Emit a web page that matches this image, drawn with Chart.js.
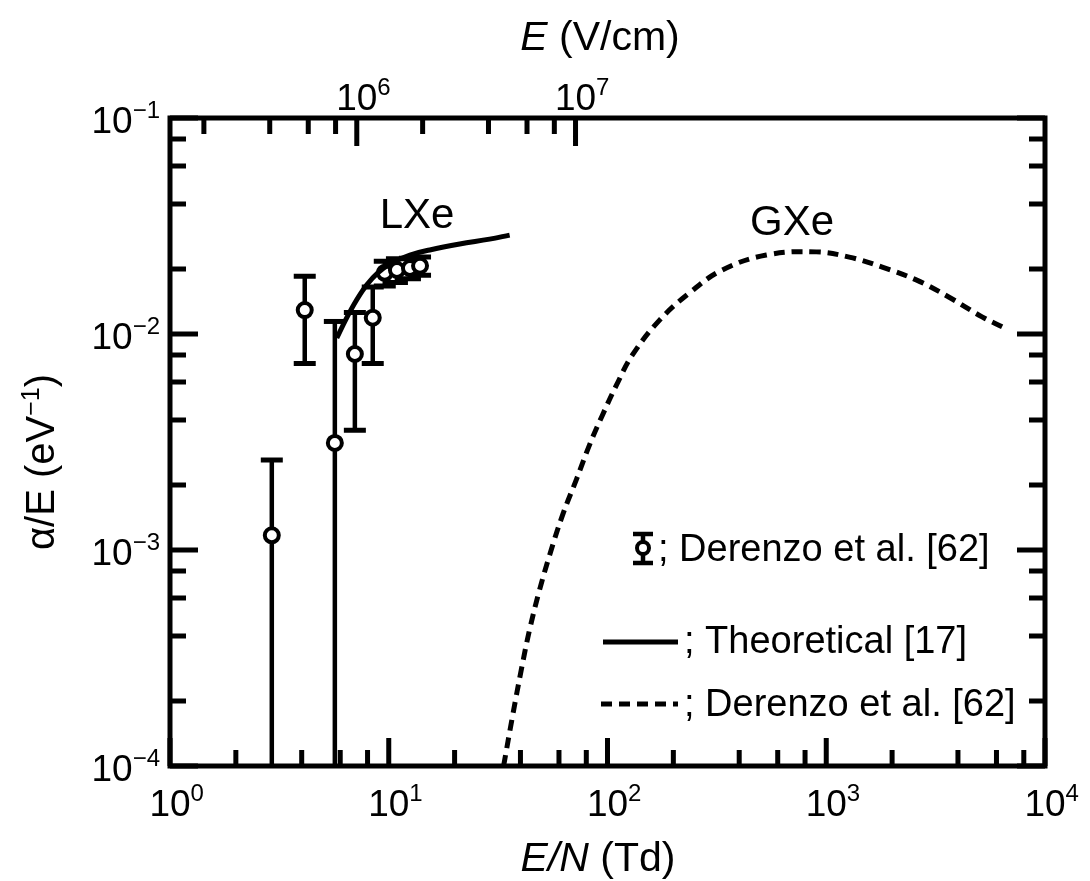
<!DOCTYPE html>
<html>
<head>
<meta charset="utf-8">
<script src="https://cdn.jsdelivr.net/npm/chart.js@4.4.0/dist/chart.umd.min.js"></script>
<style>
html,body{margin:0;padding:0;background:#fff;}
#wrap{width:1090px;height:881px;position:relative;}
</style>
</head>
<body>
<div id="wrap"><canvas id="c" width="1090" height="881"></canvas></div>
<script>
// ---- data ----
const derenzoX   = [2.92, 4.13, 5.67, 7.0, 8.45, 9.59, 10.9, 12.5, 13.9];
const derenzoY   = [1.17e-3, 1.29e-2, 3.13e-3, 8.08e-3, 1.19e-2, 1.92e-2, 1.98e-2, 2.02e-2, 2.07e-2];
const derenzoErr = [1.44e-3, 5.6e-3, 8.3e-3, 4.5e-3, 4.6e-3, 2.5e-3, 2.5e-3, 2.2e-3, 2.0e-3];
const theoryX = [5.79, 6.43, 7.14, 7.94, 8.91, 10.3, 12.5, 15.4, 21.1, 28.9, 35.7];
const theoryY = [9.58e-3, 1.19e-2, 1.44e-2, 1.69e-2, 1.92e-2, 2.13e-2, 2.32e-2, 2.45e-2, 2.61e-2, 2.75e-2, 2.87e-2];
const gxeX = [33.5, 36.8, 40.5, 44.0, 48.9, 54.4, 62.3, 72.2, 82.7, 94.9, 110, 130, 173, 237, 335, 532, 900, 1274, 1803, 2578, 3646, 5155, 6368];
const gxeY = [1.0e-4, 1.70e-4, 2.84e-4, 4.26e-4, 6.53e-4, 9.48e-4, 1.45e-3, 2.13e-3, 3.06e-3, 4.22e-3, 5.81e-3, 8.0e-3, 1.16e-2, 1.55e-2, 1.98e-2, 2.32e-2, 2.40e-2, 2.27e-2, 2.04e-2, 1.78e-2, 1.48e-2, 1.20e-2, 1.08e-2];

// ---- ticks ----
const xDecades = [1, 10, 100, 1000, 10000];
const xExpLabels = ['0', '1', '2', '3', '4'];
const yDecades = [1e-4, 1e-3, 1e-2, 1e-1];
const yExpLabels = ['\u22124', '\u22123', '\u22122', '\u22121'];
const topDecades = [1e6, 1e7];
const topExpLabels = ['6', '7'];
const minorMult = [2, 4, 6, 8];
const topMinor = [2e5, 4e5, 6e5, 8e5, 2e6, 4e6, 6e6, 8e6];
const vcmPerTd = 1.4e5; // E = (E/N) * N for liquid xenon

const FONT = "'Liberation Sans', Arial, Helvetica, sans-serif";
const NARROW = "'Liberation Sans Narrow', 'Arial Narrow', 'Liberation Sans', Arial, sans-serif";

function setFont(ctx, size, italic, fam) {
  ctx.font = (italic ? 'italic ' : '') + size + 'px ' + (fam || FONT);
}
function drawRich(ctx, parts, x, y, align) {
  let w = 0;
  parts.forEach(p => { setFont(ctx, p.size, p.italic, p.fam); p.w = ctx.measureText(p.t).width; w += p.w; });
  let cx = align === 'center' ? x - w / 2 : (align === 'right' ? x - w : x);
  ctx.textAlign = 'left';
  ctx.textBaseline = 'alphabetic';
  parts.forEach(p => {
    setFont(ctx, p.size, p.italic, p.fam);
    ctx.fillText(p.t, cx, y - (p.rise || 0));
    cx += p.w;
  });
  return w;
}
function powLabel(exp) {
  return [{t: '10', size: 37, fam: NARROW}, {t: exp, size: 24, rise: 15, fam: NARROW}];
}
function drawPowCentered(ctx, exp, x, y) {
  setFont(ctx, 37, false, NARROW);
  const w10 = ctx.measureText('10').width;
  drawRich(ctx, powLabel(exp), x - w10 / 2, y, 'left');
}

const decor = {
  id: 'decor',
  beforeDatasetsDraw(chart) {
    const ctx = chart.ctx, xs = chart.scales.x, ys = chart.scales.y, a = chart.chartArea;
    ctx.save();
    ctx.beginPath();
    ctx.rect(a.left, a.top, a.right - a.left, a.bottom - a.top);
    ctx.clip();
    ctx.strokeStyle = '#000';
    ctx.lineCap = 'butt';
    derenzoX.forEach((xv, i) => {
      const px = xs.getPixelForValue(xv);
      const hi = derenzoY[i] + derenzoErr[i];
      const lo = derenzoY[i] - derenzoErr[i];
      const pyHi = ys.getPixelForValue(hi);
      const pyLo = lo > 0 ? ys.getPixelForValue(lo) : a.bottom + 5;
      ctx.lineWidth = 4.5;
      ctx.beginPath();
      ctx.moveTo(px, pyHi); ctx.lineTo(px, pyLo); ctx.stroke();
      ctx.lineWidth = 5;
      ctx.beginPath();
      ctx.moveTo(px - 11, pyHi); ctx.lineTo(px + 11, pyHi);
      if (lo > 0) { ctx.moveTo(px - 11, pyLo); ctx.lineTo(px + 11, pyLo); }
      ctx.stroke();
    });
    ctx.restore();
  },
  afterDraw(chart) {
    const ctx = chart.ctx, xs = chart.scales.x, ys = chart.scales.y, x2 = chart.scales.x2, a = chart.chartArea;
    ctx.save();
    ctx.strokeStyle = '#000';
    ctx.fillStyle = '#000';
    ctx.lineCap = 'butt';

    // frame
    ctx.lineWidth = 5;
    ctx.strokeRect(a.left, a.top, a.right - a.left, a.bottom - a.top);

    const MAJ = 28, MIN = 16;
    ctx.lineWidth = 5;
    ctx.beginPath();
    xDecades.forEach((d, k) => {
      const p = xs.getPixelForValue(d);
      ctx.moveTo(p, a.bottom); ctx.lineTo(p, a.bottom - MAJ);
      if (k < xDecades.length - 1) {
        minorMult.forEach(m => {
          const q = xs.getPixelForValue(m * d);
          ctx.moveTo(q, a.bottom); ctx.lineTo(q, a.bottom - MIN);
        });
      }
    });
    yDecades.forEach((d, k) => {
      const p = ys.getPixelForValue(d);
      ctx.moveTo(a.left, p); ctx.lineTo(a.left + MAJ, p);
      ctx.moveTo(a.right, p); ctx.lineTo(a.right - MAJ, p);
      if (k < yDecades.length - 1) {
        minorMult.forEach(m => {
          const q = ys.getPixelForValue(m * d);
          ctx.moveTo(a.left, q); ctx.lineTo(a.left + MIN, q);
          ctx.moveTo(a.right, q); ctx.lineTo(a.right - MIN, q);
        });
      }
    });
    topDecades.forEach(d => {
      const p = x2.getPixelForValue(d);
      ctx.moveTo(p, a.top); ctx.lineTo(p, a.top + MAJ);
    });
    topMinor.forEach(d => {
      const p = x2.getPixelForValue(d);
      ctx.moveTo(p, a.top); ctx.lineTo(p, a.top + MIN);
    });
    ctx.stroke();

    // tick labels
    xDecades.forEach((d, k) => drawPowCentered(ctx, xExpLabels[k], xs.getPixelForValue(d), 816));
    topDecades.forEach((d, k) => drawPowCentered(ctx, topExpLabels[k], x2.getPixelForValue(d), 110));
    yDecades.forEach((d, k) => drawRich(ctx, powLabel(yExpLabels[k]), 160, ys.getPixelForValue(d) + 15, 'right'));

    // axis titles
    drawRich(ctx, [{t: 'E', size: 41, italic: true}, {t: ' (V/cm)', size: 41}], 600, 50, 'center');
    drawRich(ctx, [{t: 'E/N', size: 41, italic: true}, {t: ' (Td)', size: 41}], 598, 871, 'center');
    ctx.save();
    ctx.translate(54, 462);
    ctx.rotate(-Math.PI / 2);
    drawRich(ctx, [{t: '\u03b1/E (eV', size: 40}, {t: '\u22121', size: 25, rise: 15}, {t: ')', size: 40}], 0, 0, 'center');
    ctx.restore();

    // curve labels
    drawRich(ctx, [{t: 'LXe', size: 42}], 417, 228, 'center');
    drawRich(ctx, [{t: 'GXe', size: 42}], 792, 235, 'center');

    // legend
    ctx.lineWidth = 4.5;
    const lx = 643, ly = 548;
    ctx.beginPath();
    ctx.moveTo(lx, ly - 14); ctx.lineTo(lx, ly + 15);
    ctx.moveTo(lx - 10, ly - 14); ctx.lineTo(lx + 10, ly - 14);
    ctx.moveTo(lx - 10, ly + 15); ctx.lineTo(lx + 10, ly + 15);
    ctx.stroke();
    ctx.beginPath();
    ctx.arc(lx, ly, 6, 0, Math.PI * 2);
    ctx.fillStyle = '#fff'; ctx.fill();
    ctx.lineWidth = 4; ctx.stroke();
    ctx.fillStyle = '#000';
    drawRich(ctx, [{t: '; Derenzo et al. [62]', size: 38}], 658, 561, 'left');
    ctx.lineWidth = 5;
    ctx.beginPath(); ctx.moveTo(603, 642); ctx.lineTo(678, 642); ctx.stroke();
    drawRich(ctx, [{t: '; Theoretical [17]', size: 38}], 684, 653, 'left');
    ctx.setLineDash([11, 7]);
    ctx.beginPath(); ctx.moveTo(601, 704); ctx.lineTo(678, 704); ctx.stroke();
    ctx.setLineDash([]);
    drawRich(ctx, [{t: '; Derenzo et al. [62]', size: 38}], 684, 716, 'left');

    ctx.restore();
  }
};

new Chart(document.getElementById('c'), {
  type: 'scatter',
  data: {
    datasets: [
      {
        label: 'Theoretical [17]',
        data: theoryX.map((x, i) => ({x: x, y: theoryY[i]})),
        showLine: true, borderColor: '#000', borderWidth: 5, pointRadius: 0,
        tension: 0.4, fill: false
      },
      {
        label: 'Derenzo et al. [62] (GXe)',
        data: gxeX.map((x, i) => ({x: x, y: gxeY[i]})),
        showLine: true, borderColor: '#000', borderWidth: 5, borderDash: [11, 7], pointRadius: 0,
        tension: 0.4, fill: false
      },
      {
        label: 'Derenzo et al. [62] (LXe)',
        data: derenzoX.map((x, i) => ({x: x, y: derenzoY[i]})),
        showLine: false, pointRadius: 7, pointBorderWidth: 4,
        pointBackgroundColor: '#fff', pointBorderColor: '#000', pointStyle: 'circle'
      }
    ]
  },
  options: {
    responsive: false,
    devicePixelRatio: 1,
    animation: false,
    events: [],
    layout: {padding: {left: 170, right: 45, top: 118, bottom: 115}},
    plugins: {legend: {display: false}, tooltip: {enabled: false}},
    scales: {
      x: {type: 'logarithmic', min: 1, max: 1e4, display: false},
      y: {type: 'logarithmic', min: 1e-4, max: 1e-1, display: false},
      x2: {type: 'logarithmic', axis: 'x', position: 'top', min: vcmPerTd, max: 1e4 * vcmPerTd, display: false}
    }
  },
  plugins: [decor]
});
</script>
</body>
</html>
